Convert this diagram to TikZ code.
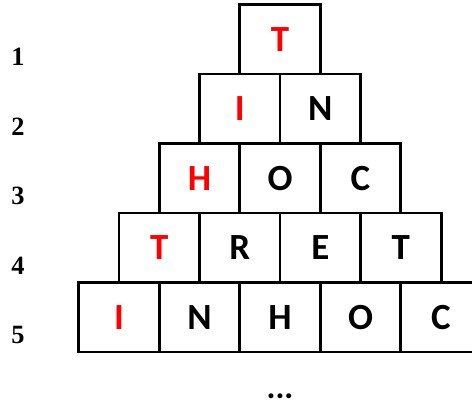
\documentclass[tikz,border=0pt]{standalone}
\usepackage{fontspec}
\setmainfont{Liberation Serif}
\newfontfamily\cellfont{Carlito}
\usetikzlibrary{positioning}
\definecolor{hilite}{HTML}{FF0000}

\begin{document}
\begin{tikzpicture}[
    node distance=1.39cm and 1.61cm,
    on grid,
    cell/.style={rectangle, draw, line width=1.7pt, minimum width=1.61cm, minimum height=1.39cm,
                 inner sep=0pt, font=\cellfont\fontsize{21}{24}\bfseries\selectfont},
    first/.style={cell, text=hilite},
    rowlbl/.style={font=\fontsize{15}{18}\bfseries\selectfont, inner sep=0pt}
]
    \useasboundingbox (0,0) rectangle (9.44,-8.12);
    \clip (0,0) rectangle (9.44,-8.12);

    % row 1
    \node[first]                               (t1) at (5.6,-0.785) {T};
    % row 2
    \node[first, below left=1.39cm and 0.805cm of t1] (i2) {I};
    \node[cell,  right=of i2]                  (n2) {N};
    % row 3
    \node[first, below left=1.39cm and 0.805cm of i2] (h3) {H};
    \node[cell,  right=of h3]                  (o3) {O};
    \node[cell,  right=of o3]                  (c3) {C};
    % row 4
    \node[first, below left=1.39cm and 0.805cm of h3] (t4) {T};
    \node[cell,  right=of t4]                  (r4) {R};
    \node[cell,  right=of r4]                  (e4) {E};
    \node[cell,  right=of e4]                  (tt4) {T};
    % row 5
    \node[first, below left=1.39cm and 0.805cm of t4] (i5) {I};
    \node[cell,  right=of i5]                  (n5) {N};
    \node[cell,  right=of n5]                  (h5) {H};
    \node[cell,  right=of h5]                  (o5) {O};
    \node[cell,  right=of o5]                  (c5) {C};

    \node[font=\cellfont\fontsize{19}{22}\bfseries\selectfont, inner sep=0pt,
          below=1.59cm of h5]                  (more) {...};

    % row numbers
    \node[rowlbl]            (lbl1) at (0.36,-1.14) {1};
    \node[rowlbl, below=of lbl1] (lbl2) {2};
    \node[rowlbl, below=of lbl2] (lbl3) {3};
    \node[rowlbl, below=of lbl3] (lbl4) {4};
    \node[rowlbl, below=of lbl4] (lbl5) {5};
\end{tikzpicture}
\end{document}
